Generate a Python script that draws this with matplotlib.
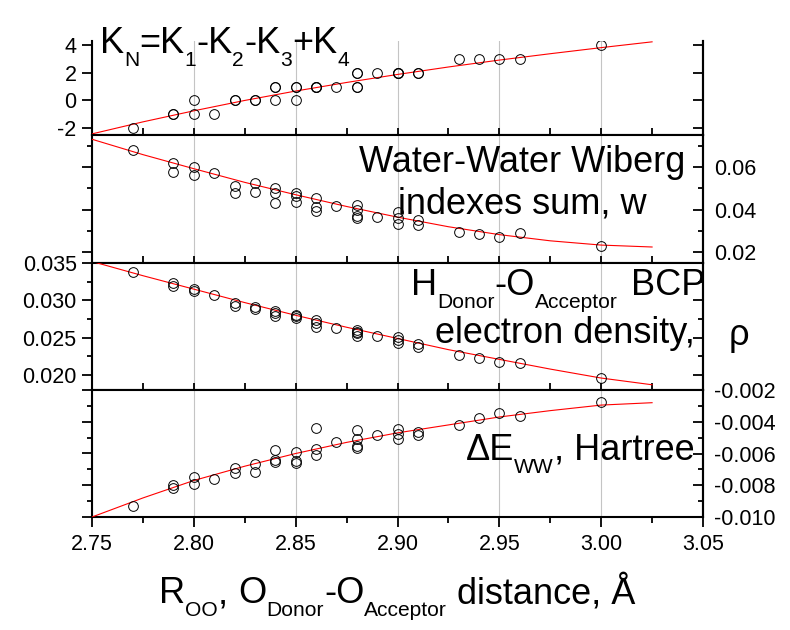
import matplotlib
matplotlib.use('Agg')
import matplotlib.pyplot as plt
from matplotlib.ticker import MultipleLocator, FixedLocator, FormatStrFormatter, NullLocator

plt.rcParams['font.family'] = ['Liberation Sans', 'DejaVu Sans']
plt.rcParams['axes.unicode_minus'] = False

# O-O distance of every dimer (Angstrom)
r_oo = [2.77, 2.79, 2.79, 2.80, 2.80, 2.81, 2.82, 2.82, 2.83, 2.83,
        2.84, 2.84, 2.84, 2.85, 2.85, 2.85, 2.86, 2.86, 2.86, 2.87,
        2.88, 2.88, 2.88, 2.88, 2.89, 2.90, 2.90, 2.90, 2.91, 2.91,
        2.93, 2.94, 2.95, 2.96, 3.00]

k_n = [-2, -1, -1, 0, -1, -1, 0, 0, 0, 0,
       1, 1, 0, 1, 1, 0, 1, 1, 1, 1,
       2, 2, 1, 1, 2, 2, 2, 2, 2, 2,
       3, 3, 3, 3, 4]

wiberg = [0.0680, 0.0617, 0.0578, 0.0601, 0.0562, 0.0570, 0.0511, 0.0476, 0.0526, 0.0484,
          0.0500, 0.0476, 0.0433, 0.0480, 0.0464, 0.0437, 0.0453, 0.0414, 0.0394, 0.0417,
          0.0422, 0.0398, 0.0370, 0.0359, 0.0367, 0.0390, 0.0359, 0.0333, 0.0351, 0.0328,
          0.0297, 0.0286, 0.0273, 0.0289, 0.0229]

rho_bcp = [0.03375, 0.03231, 0.03187, 0.03151, 0.03128, 0.03075, 0.02963, 0.02927, 0.02909, 0.02882,
           0.02860, 0.02829, 0.02784, 0.02806, 0.02784, 0.02761, 0.02739, 0.02694, 0.02650, 0.02636,
           0.02605, 0.02582, 0.02560, 0.02529, 0.02524, 0.02506, 0.02470, 0.02435, 0.02412, 0.02381,
           0.02269, 0.02224, 0.02180, 0.02157, 0.01956]

de_ww = [-0.00929, -0.00799, -0.00820, -0.00750, -0.00792, -0.00763, -0.00693, -0.00721, -0.00666, -0.00714,
         -0.00578, -0.00641, -0.00656, -0.00593, -0.00645, -0.00658, -0.00441, -0.00572, -0.00607, -0.00526,
         -0.00452, -0.00511, -0.00551, -0.00563, -0.00484, -0.00446, -0.00477, -0.00509, -0.00467, -0.00484,
         -0.00420, -0.00379, -0.00347, -0.00364, -0.00278]

# red fit curves
fit_x = [2.75, 2.775, 2.80, 2.825, 2.85, 2.875, 2.90, 2.925, 2.95, 2.975, 3.00, 3.025]
fit_k = [-2.42, -1.55, -0.75, 0.0, 0.68, 1.30, 1.88, 2.42, 2.92, 3.38, 3.82, 4.24]
fit_w = [0.0730, 0.0658, 0.0592, 0.0528, 0.0470, 0.0415, 0.0365, 0.0320, 0.0283, 0.0254, 0.0234, 0.0225]
fit_rho = [0.0352, 0.0333, 0.0315, 0.0297, 0.0280, 0.0264, 0.0249, 0.0234, 0.0221, 0.0208, 0.0196, 0.0187]
fit_de = [-0.0100, -0.0088, -0.0077, -0.0068, -0.0060, -0.0053, -0.0047, -0.0042, -0.0037, -0.0033, -0.00295, -0.0028]

# labelled ticks
x_ticks = [2.75, 2.80, 2.85, 2.90, 2.95, 3.00, 3.05]
k_ticks = [-2, 0, 2, 4]
w_ticks = [0.02, 0.04, 0.06]
rho_ticks = [0.020, 0.025, 0.030, 0.035]
de_ticks = [-0.010, -0.008, -0.006, -0.004, -0.002]

W, H = 790, 630
fig = plt.figure(figsize=(W / 100, H / 100), dpi=100)

# panel boxes in pixels (top, bottom), left/right edges
boxes = [(41, 135), (135, 263), (263, 390), (390, 517)]
x0, x1 = 92, 703

series = [k_n, wiberg, rho_bcp, de_ww]
fits = [fit_k, fit_w, fit_rho, fit_de]
yticks = [k_ticks, w_ticks, rho_ticks, de_ticks]
ylims = [(-2.5, 4.3), (0.015, 0.075), (0.018, 0.035), (-0.010, -0.002)]
minors = [None, 0.01, 0.0025, 0.001]
fmts = ['%d', '%.2f', '%.3f', '%.3f']
labels_right = [False, True, False, True]

TICK_FS = 15.5

for i, (top, bot) in enumerate(boxes):
    ax = fig.add_axes([x0 / W, 1 - bot / H, (x1 - x0) / W, (bot - top) / H])
    ax.plot(fit_x, fits[i], color='red', lw=0.8, zorder=3)
    ax.plot(r_oo, series[i], 'o', mfc='none', mec='black', ms=7, mew=0.7, zorder=4)
    ax.set_xlim(2.75, 3.05)
    ax.set_ylim(*ylims[i])
    ax.xaxis.set_major_locator(FixedLocator(x_ticks))
    ax.xaxis.set_minor_locator(MultipleLocator(0.025))
    ax.xaxis.set_major_formatter(FormatStrFormatter('%.2f'))
    ax.grid(axis='x', which='major', color='#c4c4c4', lw=0.8)
    ax.set_axisbelow(True)
    for sp in ax.spines.values():
        sp.set_linewidth(1.5)
    if i == 0:
        ax.spines['top'].set_visible(False)

    ax.yaxis.set_major_locator(FixedLocator(yticks[i]))
    if minors[i]:
        ax.yaxis.set_minor_locator(MultipleLocator(minors[i]))
    else:
        ax.yaxis.set_minor_locator(NullLocator())
    ax.yaxis.set_major_formatter(FormatStrFormatter(fmts[i]))
    ax.tick_params(axis='y', which='both', direction='out', left=True, right=False,
                   labelleft=not labels_right[i], labelsize=TICK_FS, width=1.3, pad=4)
    ax.tick_params(axis='y', which='major', length=7)
    ax.tick_params(axis='y', which='minor', length=3.5)

    # right-hand axis: ticks point inward
    sec = ax.secondary_yaxis('right')
    sec.xaxis.set_visible(False)
    sec.yaxis.set_major_locator(FixedLocator(yticks[i]))
    if minors[i]:
        sec.yaxis.set_minor_locator(MultipleLocator(minors[i]))
    else:
        sec.yaxis.set_minor_locator(NullLocator())
    sec.yaxis.set_major_formatter(FormatStrFormatter(fmts[i]))
    sec.tick_params(axis='y', which='both', direction='in', width=1.3,
                    labelsize=TICK_FS, pad=8, labelright=labels_right[i])
    sec.tick_params(axis='y', which='major', length=7)
    sec.tick_params(axis='y', which='minor', length=3.5)
    sec.spines['right'].set_linewidth(1.5)

    if i < 3:
        ax.tick_params(axis='x', which='both', direction='in', length=5, width=1.3,
                       labelbottom=False, top=False)
    else:
        ax.tick_params(axis='x', which='both', direction='out', width=1.3,
                       labelsize=TICK_FS, pad=5.5, top=False)
        ax.tick_params(axis='x', which='major', length=7)
        ax.tick_params(axis='x', which='minor', length=4.5)


def rich_text(x, y, parts, size=26, sub_scale=0.58, sub_drop=13, center=False):
    # text with subscripts; x, y = left baseline in pixels from top-left
    r = fig.canvas.get_renderer()
    items = []
    pos = 0
    for s, sub in parts:
        if s == ' ':
            pos += 0.278 * size * 100 / 72
            continue
        fs = size * sub_scale if sub else size
        t = fig.text(0, 0, s, fontsize=fs, va='baseline', ha='left')
        items.append((t, pos, sub_drop if sub else 0))
        pos += t.get_window_extent(r).width
    if center:
        x = x - pos / 2
    for t, p, dy in items:
        t.set_position(((x + p) / W, 1 - (y + dy) / H))


def plain_text(x, y, s, size=26, ha='left'):
    fig.text(x / W, 1 - y / H, s, fontsize=size, va='baseline', ha=ha)


# panel titles
rich_text(100, 53, [('K', 0), ('N', 1), ('=K', 0), ('1', 1), ('-K', 0), ('2', 1),
                    ('-K', 0), ('3', 1), ('+K', 0), ('4', 1)])

plain_text(522, 172, 'Water-Water Wiberg', ha='center')
plain_text(522, 214, 'indexes sum, w', ha='center')

rich_text(411, 295, [('H', 0), ('Donor', 1), ('-O', 0), ('Acceptor', 1)])
plain_text(705, 295, 'BCP', ha='right')
plain_text(435, 343, 'electron density,')
plain_text(729, 345, 'ρ')

rich_text(466, 460, [('ΔE', 0), ('WW', 1), (', Hartree', 0)])

# x axis title
rich_text((x0 + x1) / 2, 603, [('R', 0), ('OO', 1), (',', 0), (' ', 0), ('O', 0), ('Donor', 1),
                               ('-O', 0), ('Acceptor', 1), (' ', 0), ('distance, Å', 0)],
          center=True)

fig.savefig('out.png', dpi=100)
